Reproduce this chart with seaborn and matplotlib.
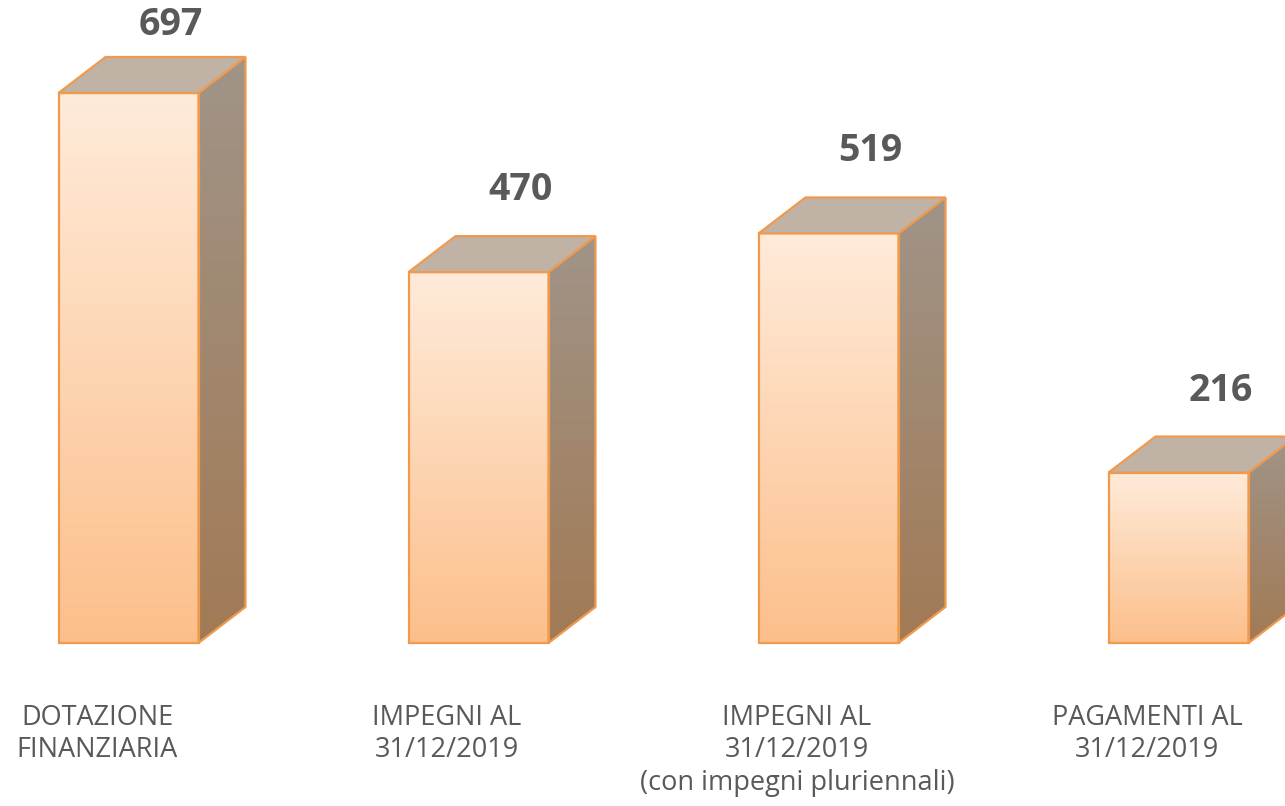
import matplotlib
matplotlib.use('Agg')
import matplotlib.pyplot as plt
from matplotlib.patches import Polygon
from matplotlib.colors import LinearSegmentedColormap
import numpy as np
import pandas as pd
import seaborn as sns

categories = ['DOTAZIONE\nFINANZIARIA',
              'IMPEGNI AL\n31/12/2019',
              'IMPEGNI AL\n31/12/2019\n(con impegni pluriennali)',
              'PAGAMENTI AL\n31/12/2019']
values = [697, 470, 519, 216]

sns.set_theme(style='white')
plt.rcParams['font.family'] = ['Open Sans', 'DejaVu Sans']

edge = '#F09A4E'
text_clr = '#595959'
front_cmap = LinearSegmentedColormap.from_list('front', ['#FFEBDA', '#FCBF8B'])
side_cmap = LinearSegmentedColormap.from_list('side', ['#A09488', '#A27A55'])
top_clr = '#C0B2A5'

# pixel geometry of the reference: 350 px between bars, 0.789 px per unit
px_x = 350.0
px_y = 550.0 / 697
dx = 47 / px_x
dy = 36 / px_y

fig = plt.figure(figsize=(12.85, 8.06), dpi=100)
ax = fig.add_axes([0, 0, 1, 1])

df = pd.DataFrame({'cat': categories, 'val': values})
sns.barplot(data=df, x='cat', y='val', width=0.4, ax=ax,
            color='#FCBF8B', edgecolor=edge, linewidth=1.6)

grad = np.linspace(0, 1, 256).reshape(-1, 1)
for p, v in zip(list(ax.patches), values):
    x0 = p.get_x()
    x1 = x0 + p.get_width()
    h = p.get_height()
    p.set_facecolor('none')
    p.set_zorder(4)

    # front gradient
    im = ax.imshow(grad, cmap=front_cmap, aspect='auto',
                   extent=(x0, x1, 0, h), origin='upper', zorder=2)
    im.set_clip_path(p)

    # side face
    side = Polygon([(x1, 0), (x1 + dx, dy), (x1 + dx, h + dy), (x1, h)],
                   closed=True, facecolor='none', edgecolor=edge,
                   linewidth=1.6, zorder=4)
    ax.add_patch(side)
    im2 = ax.imshow(grad, cmap=side_cmap, aspect='auto',
                    extent=(x1, x1 + dx, 0, h + dy), origin='upper', zorder=2)
    im2.set_clip_path(side)

    # top face
    top = Polygon([(x0, h), (x1, h), (x1 + dx, h + dy), (x0 + dx, h + dy)],
                  closed=True, facecolor=top_clr, edgecolor=edge,
                  linewidth=1.6, zorder=4)
    ax.add_patch(top)

    # value label
    ly = min(h + dy + 46 / px_y, (643 - 25) / px_y)
    ax.text((x0 + x1) / 2 + 0.12, ly, str(v), ha='center', va='center',
            fontsize=27, fontweight='bold', color=text_clr, zorder=5)

# category labels
for i, c in enumerate(categories):
    ax.text(i - 0.09, (643 - 704) / px_y, c, ha='center', va='top',
            fontsize=19.5, color=text_clr, linespacing=1.21)

ax.set_xlim(-128.5 / px_x, (1285 - 128.5) / px_x)
ax.set_ylim(-(806 - 643) / px_y, 643 / px_y)
ax.set_axis_off()

fig.savefig('out.png', dpi=100)
